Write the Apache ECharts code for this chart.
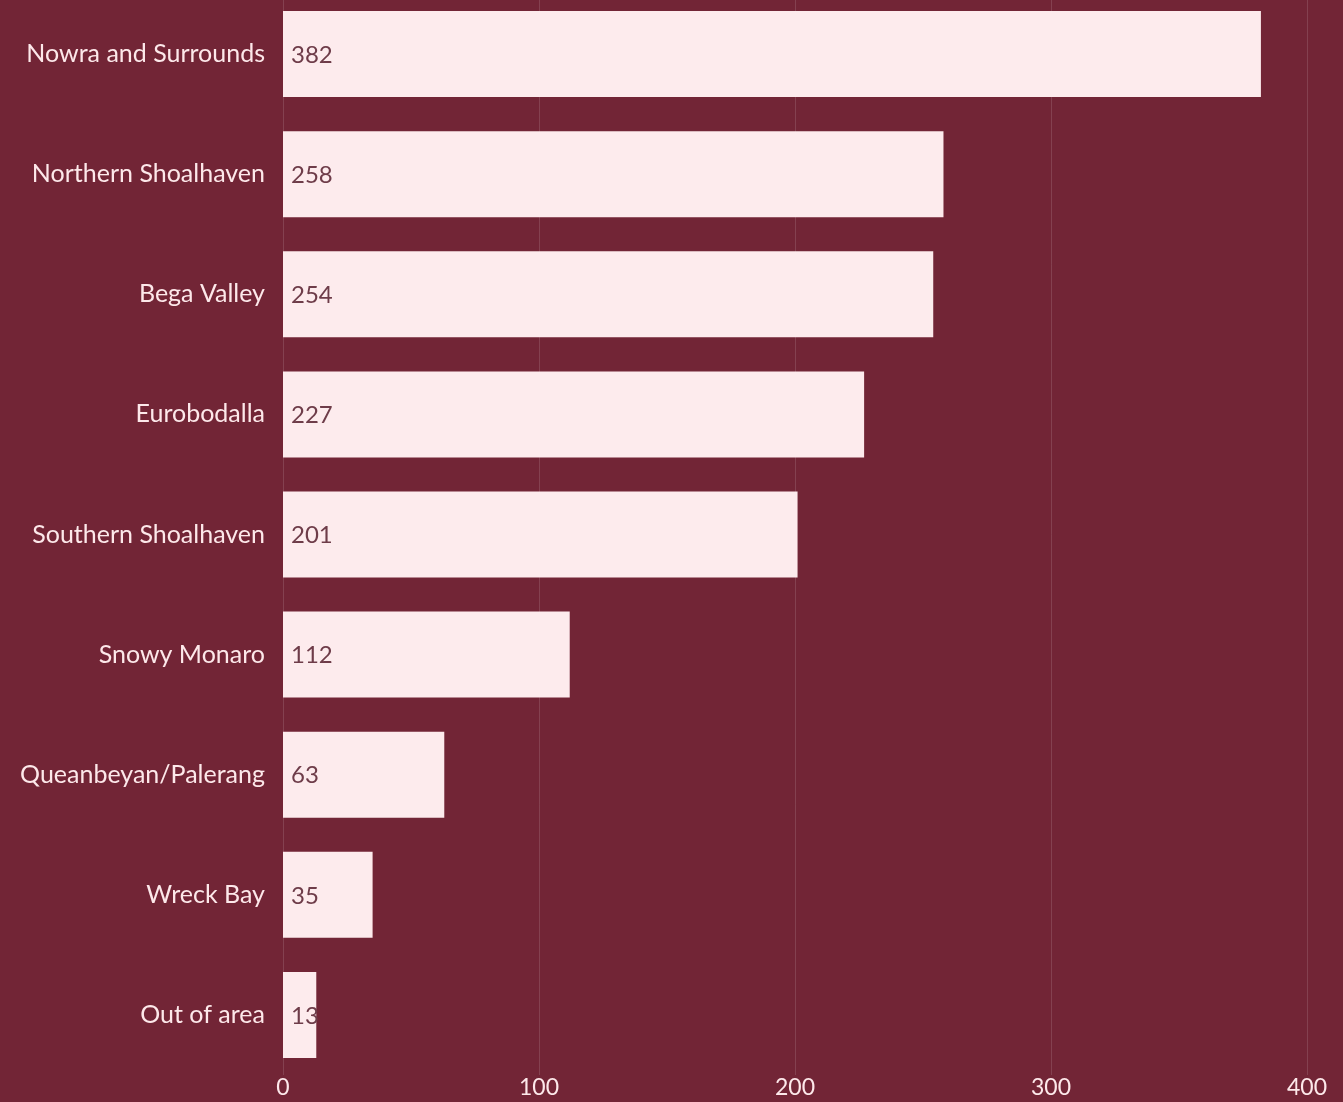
<!DOCTYPE html>
<html>
<head>
<meta charset="utf-8">
<title>Regions</title>
<script src="https://cdn.jsdelivr.net/npm/echarts@6/dist/echarts.min.js"></script>
<style>
  html, body { margin: 0; padding: 0; background: #722536; overflow: hidden; }
  #chart { width: 1343px; height: 1108px; margin-top: -6px; }
</style>
</head>
<body>
<div id="chart"></div>
<script>
// Regions, listed top to bottom
const regions = [
  'Nowra and Surrounds',
  'Northern Shoalhaven',
  'Bega Valley',
  'Eurobodalla',
  'Southern Shoalhaven',
  'Snowy Monaro',
  'Queanbeyan/Palerang',
  'Wreck Bay',
  'Out of area'
];
const counts = [382, 258, 254, 227, 201, 112, 63, 35, 13];

const chart = echarts.init(document.getElementById('chart'));
chart.setOption({
  backgroundColor: '#722536',
  animation: false,
  textStyle: { fontFamily: 'Lato, "Open Sans", sans-serif' },
  grid: { left: 283, right: 36, top: 0, bottom: 27, containLabel: false },
  xAxis: {
    type: 'value',
    min: 0,
    max: 400,
    interval: 100,
    axisLine: { show: false },
    axisTick: { show: false },
    splitLine: { show: true, lineStyle: { color: 'rgba(255,255,255,0.13)', width: 1 } },
    axisLabel: { color: '#fde8ea', fontSize: 23, margin: 1 }
  },
  yAxis: {
    type: 'category',
    data: regions,
    inverse: true,
    axisLine: { show: false },
    axisTick: { show: false },
    splitLine: { show: false },
    axisLabel: { color: '#fde8ea', fontSize: 25, margin: 18 }
  },
  series: [{
    type: 'bar',
    data: counts,
    barWidth: 86,
    itemStyle: { color: '#fdebed' },
    label: {
      show: true,
      position: 'insideLeft',
      distance: 8,
      color: '#6e3c49',
      fontSize: 24,
      offset: [0, 1]
    }
  }]
});
</script>
</body>
</html>
